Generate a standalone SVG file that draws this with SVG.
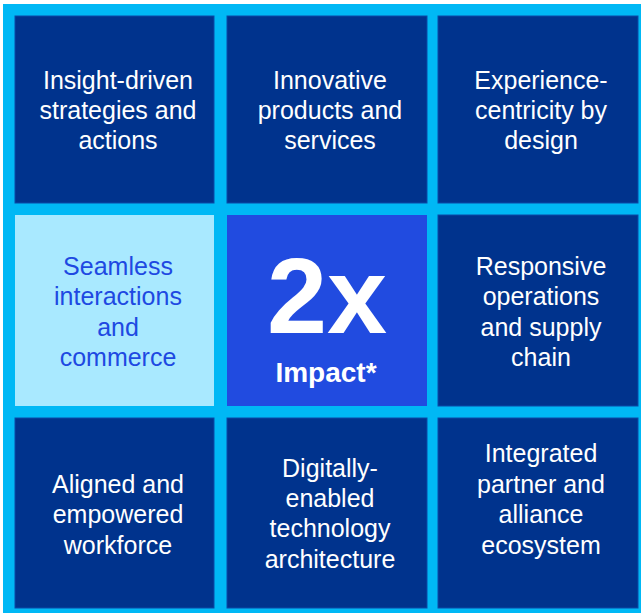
<svg xmlns="http://www.w3.org/2000/svg" width="641" height="613" viewBox="0 0 641 613">
<style>
.cell{fill:#00338D;stroke:#0A4BA8;stroke-width:1}
.t{font-family:"Liberation Sans",Arial,sans-serif;font-size:25px;fill:#FFFFFF;text-anchor:middle}
.lt{fill:#1E49E2}
.b{font-family:"Liberation Sans",Arial,sans-serif;font-weight:bold;fill:#FFFFFF;text-anchor:middle}
</style>
<rect x="0" y="0" width="641" height="613" fill="#FFFFFF"/>
<rect x="3" y="4" width="638" height="609" fill="#00B8F5"/>
<g id="n1"><rect class="cell" x="15" y="16" width="199" height="187"/>
<text class="t"><tspan x="118" y="88.5">Insight-driven</tspan><tspan x="118" y="118.5">strategies and</tspan><tspan x="118" y="148.5">actions</tspan></text></g>
<g id="n2"><rect class="cell" x="227" y="16" width="200" height="187"/>
<text class="t"><tspan x="330" y="88.5">Innovative</tspan><tspan x="330" y="118.5">products and</tspan><tspan x="330" y="148.5">services</tspan></text></g>
<g id="n3"><rect class="cell" x="438" y="16" width="200" height="187"/>
<text class="t"><tspan x="541" y="88.5">Experience-</tspan><tspan x="541" y="118.5">centricity by</tspan><tspan x="541" y="148.5">design</tspan></text></g>
<g id="n4"><rect x="15" y="215" width="199" height="191" fill="#A9E9FF"/>
<text class="t lt"><tspan x="118" y="274.5">Seamless</tspan><tspan x="118" y="305">interactions</tspan><tspan x="118" y="335.5">and</tspan><tspan x="118" y="366">commerce</tspan></text></g>
<g id="n5"><rect x="227" y="215" width="200" height="191" fill="#214BE0"/>
<text class="b" x="327" y="333" font-size="108">2x</text>
<text class="b" x="326" y="382" font-size="28">Impact*</text></g>
<g id="n6"><rect class="cell" x="438" y="215" width="200" height="191"/>
<text class="t"><tspan x="541" y="275">Responsive</tspan><tspan x="541" y="305">operations</tspan><tspan x="541" y="335.5">and supply</tspan><tspan x="541" y="365.5">chain</tspan></text></g>
<g id="n7"><rect class="cell" x="15" y="418" width="199" height="190"/>
<text class="t"><tspan x="118" y="492.5">Aligned and</tspan><tspan x="118" y="523">empowered</tspan><tspan x="118" y="553.5">workforce</tspan></text></g>
<g id="n8"><rect class="cell" x="227" y="418" width="200" height="190"/>
<text class="t"><tspan x="330" y="476.5">Digitally-</tspan><tspan x="330" y="507">enabled</tspan><tspan x="330" y="537">technology</tspan><tspan x="330" y="567.5">architecture</tspan></text></g>
<g id="n9"><rect class="cell" x="438" y="418" width="200" height="190"/>
<text class="t"><tspan x="541" y="462">Integrated</tspan><tspan x="541" y="492.5">partner and</tspan><tspan x="541" y="523">alliance</tspan><tspan x="541" y="553.5">ecosystem</tspan></text></g>
<g id="connectors"></g>
</svg>
